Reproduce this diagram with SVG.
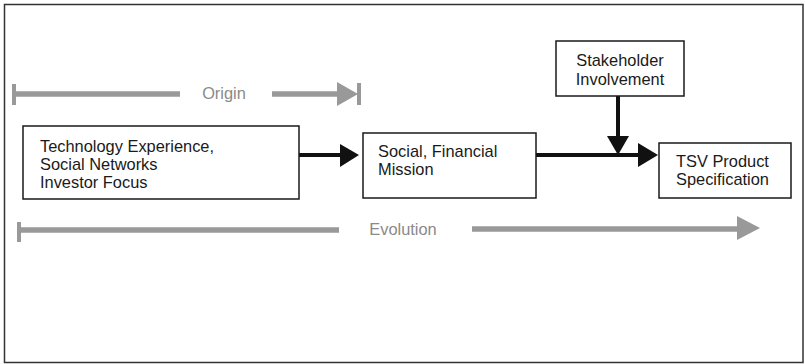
<svg xmlns="http://www.w3.org/2000/svg" width="805" height="364" viewBox="0 0 805 364">
<style>
.box{fill:#fff;stroke:#1a1a1a;stroke-width:1.5}
.t{font-family:"Liberation Sans",Arial,sans-serif;font-size:16.4px;fill:#1a1a1a}
.g{font-family:"Liberation Sans",Arial,sans-serif;font-size:16.4px;fill:#8a8a8a}
.gl{stroke:#999;stroke-width:5.5;fill:none}
.gt{stroke:#999;stroke-width:4;fill:none}
.bl{stroke:#111;stroke-width:4;fill:none}
</style>
<rect x="4.5" y="4.5" width="798.5" height="358" fill="#fff" stroke="#333" stroke-width="1.5"/>
<g id="timelines">
<line class="gt" x1="14" y1="84" x2="14" y2="105"/>
<line class="gl" x1="14" y1="94" x2="180" y2="94"/>
<text class="g" x="224" y="99" text-anchor="middle">Origin</text>
<line class="gl" x1="272" y1="94" x2="339" y2="94"/>
<polygon points="337,82 358,94 337,106" fill="#999"/>
<line class="gt" x1="359" y1="83" x2="359" y2="105"/>
<line class="gt" x1="19" y1="222" x2="19" y2="242"/>
<line class="gl" x1="19" y1="230" x2="339" y2="230"/>
<text class="g" x="403" y="235" text-anchor="middle">Evolution</text>
<line class="gl" x1="472" y1="229" x2="739" y2="229"/>
<polygon points="737,216 760,228 737,240" fill="#999"/>
</g>
<g id="connectors">
<line class="bl" x1="299" y1="155" x2="342" y2="155"/>
<polygon points="340,144 359,155 340,167" fill="#111"/>
<line class="bl" x1="618" y1="96" x2="618" y2="138"/>
<polygon points="607,136 629,136 618,155" fill="#111"/>
<line class="bl" x1="536" y1="155" x2="640" y2="155"/>
<polygon points="638,143 658,155 638,167" fill="#111"/>
</g>
<g id="node-tech">
<rect class="box" x="23" y="126" width="276" height="73"/>
<text class="t" x="40" y="152">Technology Experience,</text>
<text class="t" x="40" y="170">Social Networks</text>
<text class="t" x="40" y="188">Investor Focus</text>
</g>
<g id="node-mission">
<rect class="box" x="363" y="133" width="173" height="65"/>
<text class="t" x="378" y="157">Social, Financial</text>
<text class="t" x="378" y="175">Mission</text>
</g>
<g id="node-stakeholder">
<rect class="box" x="556" y="41" width="128" height="55"/>
<text class="t" x="620" y="66" text-anchor="middle">Stakeholder</text>
<text class="t" x="620" y="85" text-anchor="middle">Involvement</text>
</g>
<g id="node-tsv">
<rect class="box" x="659" y="143" width="132" height="55"/>
<text class="t" x="676" y="167">TSV Product</text>
<text class="t" x="676" y="185">Specification</text>
</g>
</svg>
